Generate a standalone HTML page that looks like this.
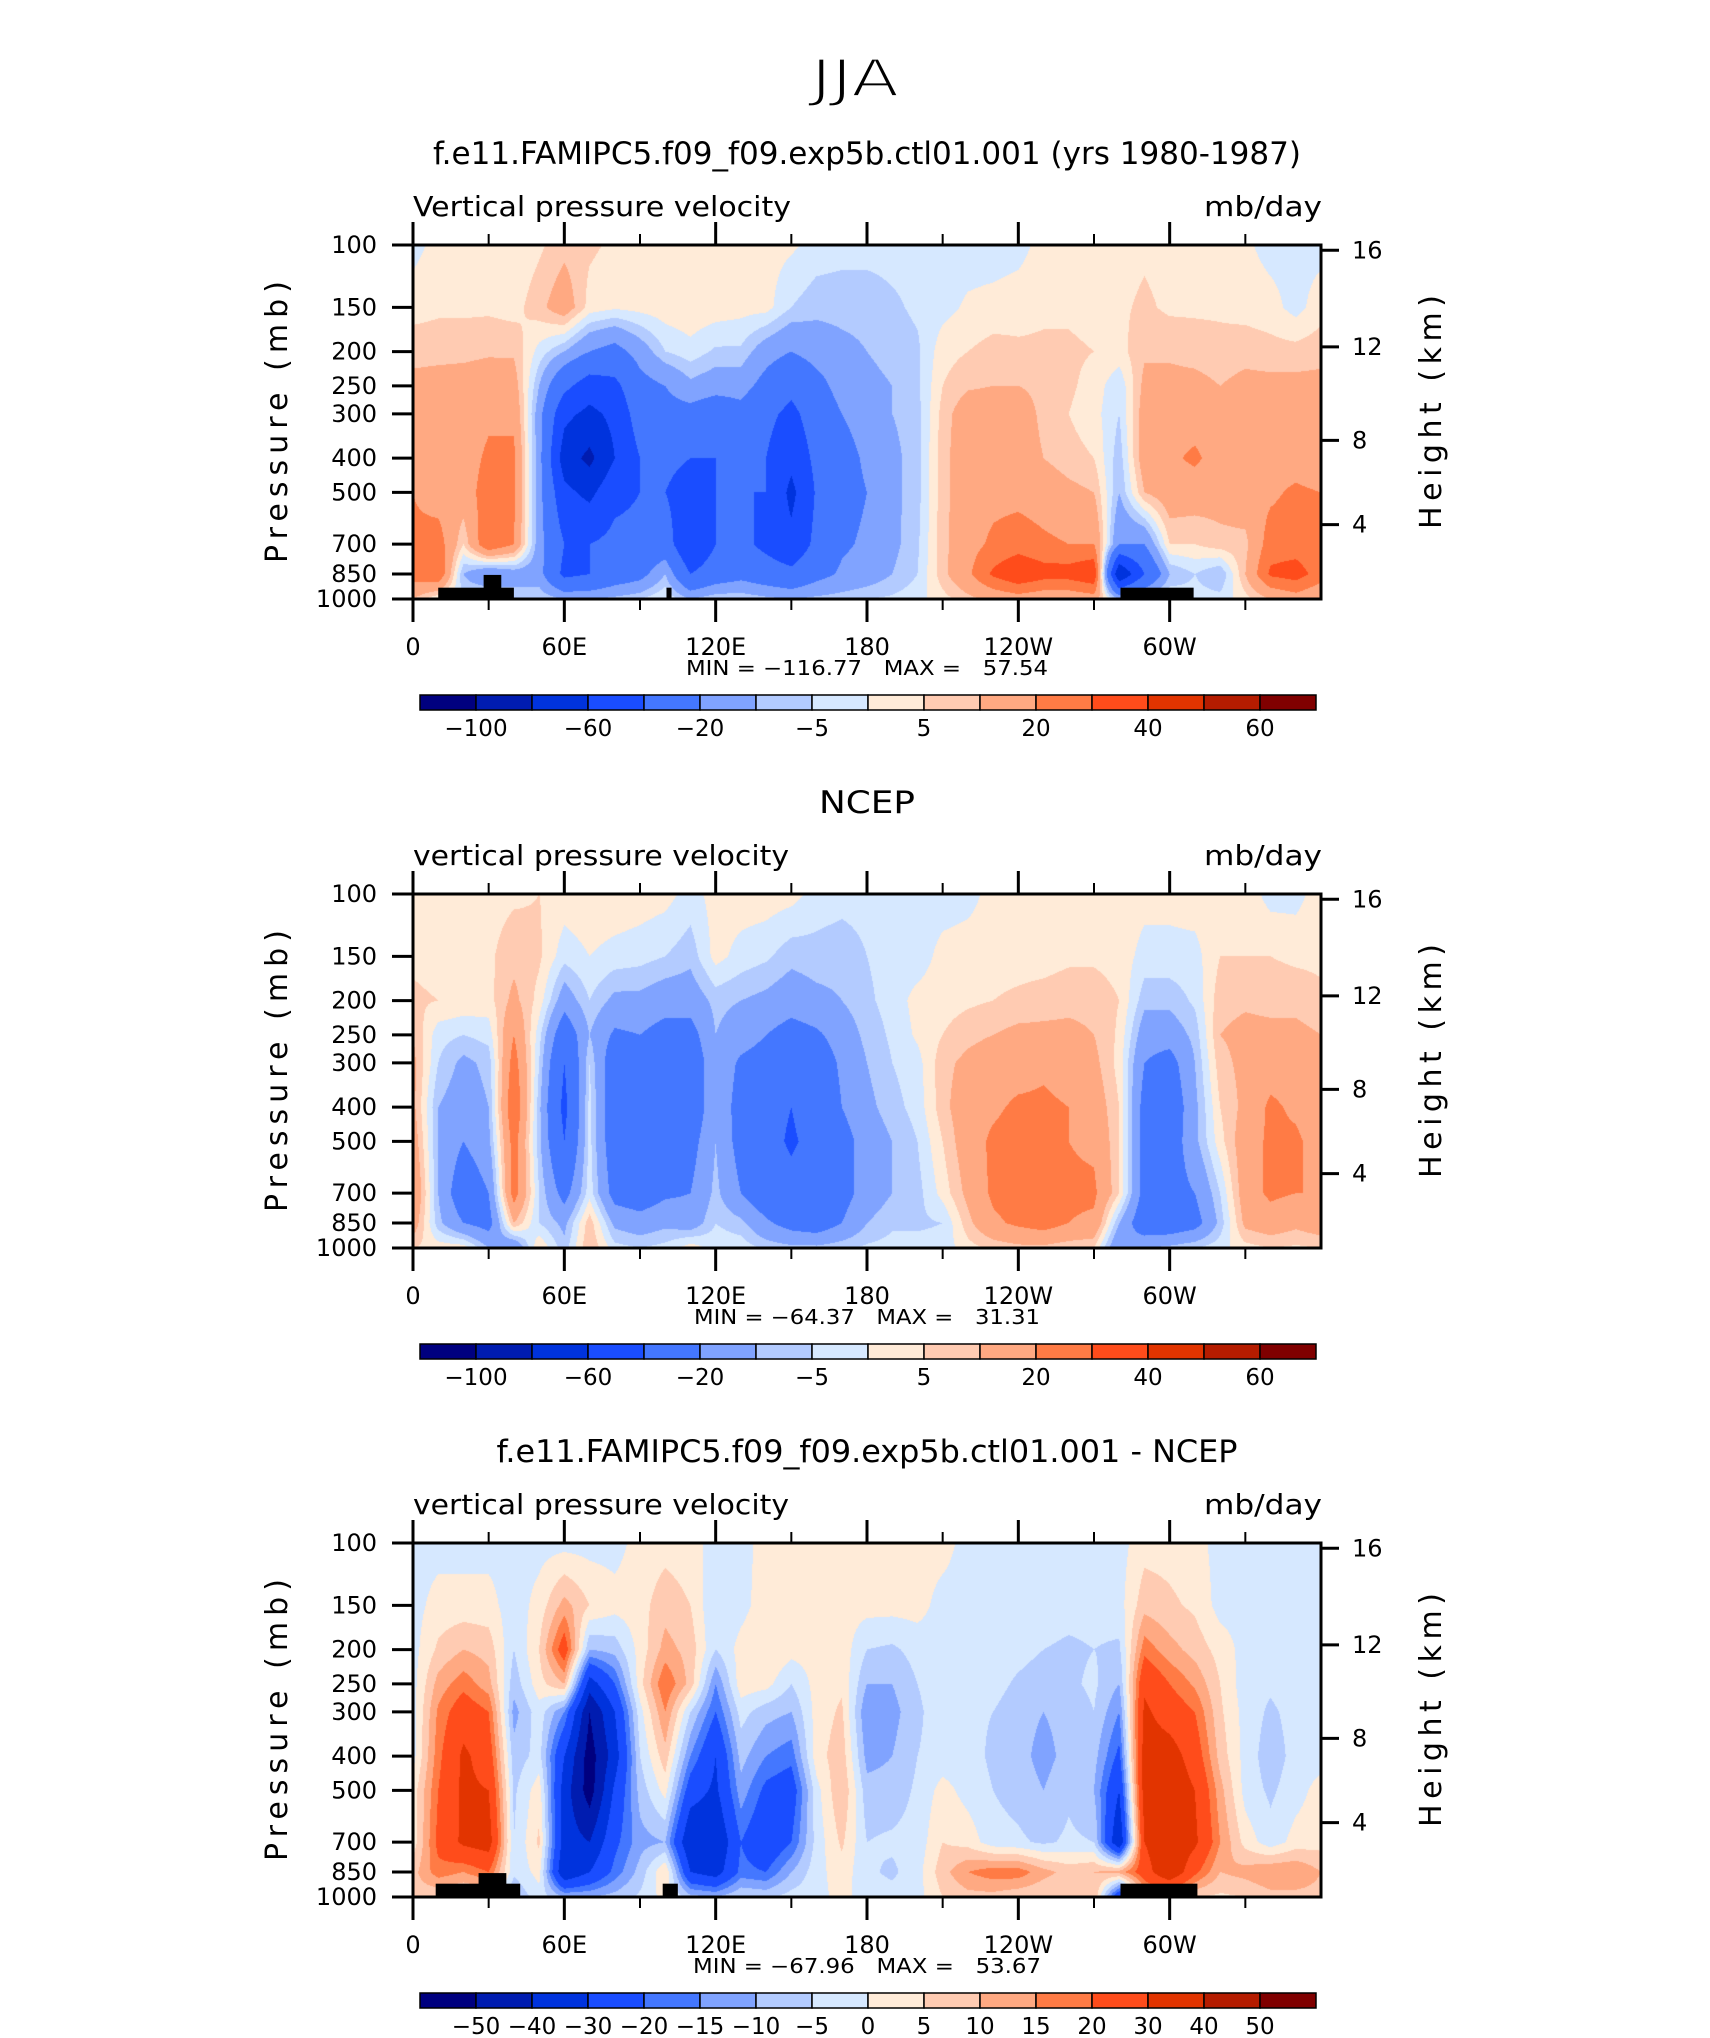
<!DOCTYPE html>
<html><head><meta charset="utf-8">
<style>
html,body{margin:0;padding:0;background:#fff;}
#wrap{position:relative;width:1710px;height:2038px;overflow:hidden;}
canvas{position:absolute;}
svg{position:absolute;left:0;top:0;}
text{font-family:"DejaVu Sans","Liberation Sans",sans-serif;fill:#000;}
</style></head>
<body>
<div id="wrap">
<canvas id="c0" width="908" height="354" style="left:413px;top:245px"></canvas>
<canvas id="c1" width="908" height="354" style="left:413px;top:894px"></canvas>
<canvas id="c2" width="908" height="354" style="left:413px;top:1543px"></canvas>
<svg id="svg" width="1710" height="2038" xmlns="http://www.w3.org/2000/svg">
<text x="855" y="96" font-size="52" text-anchor="middle" font-family="Liberation Sans" textLength="88" lengthAdjust="spacingAndGlyphs" stroke="#fff" stroke-width="2.2">JJA</text>
</svg>
</div>
<script>
const longitudes=[0,10,20,30,40,50,60,70,80,90,100,110,120,130,140,150,160,170,180,190,200,210,220,230,240,250,260,270,280,290,300,310,320,330,340,350,360];
const pressureLevels=[100,150,200,250,300,400,500,700,850,1000];
const pressureTicks=[100,150,200,250,300,400,500,700,850,1000];
const heightTicks=[16,12,8,4];
const heightTickPressures=[103.5,194,356.5,616.6];
const lonTicks=[0,60,120,180,240,300];
const lonTickLabels=["0","60E","120E","180","120W","60W"];
const lonMinorTicks=[30,90,150,210,270,330];
const colors=['#00007f','#001cb0','#0033dd','#1a4dff','#4477ff','#80a3ff','#b3cbff','#d6e8ff','#ffebd8','#ffcbb2','#ffa982','#ff7b45','#ff4c1b','#e23400','#b51c00','#800000'];
const levelsA=[-100,-80,-60,-40,-20,-10,-5,0,5,10,20,30,40,50,60];
const levelLabelsA=["-100","","-60","","-20","","-5","","5","","20","","40","","60"];
const levelsDiff=[-50,-40,-30,-20,-15,-10,-5,0,5,10,15,20,30,40,50];
const levelLabelsDiff=["-50","-40","-30","-20","-15","-10","-5","0","5","10","15","20","30","40","50"];

const ctlOmega=[
[-2,2,2,3,1,4,8,6,4,3,3,4,3,3,2,1,-2,-3,-3,-3,-3,-3,-3,-3,-2,2,3,2,3,4,3,2,2,1,-2,-2,-2],
[3,4,4,4,3,8,15,3,1,2,3,4,3,2,2,-5,-8,-8,-8,-6,-4,-2,1,2,3,4,4,3,4,6,4,4,4,3,2,-2,3],
[8,8,8,9,9,-2,-10,-20,-25,-15,-5,-2,-6,-6,-15,-20,-15,-12,-10,-8,-6,3,5,7,6,6,6,5,3,9,9,8,7,8,7,7,8],
[12,13,14,15,14,-10,-35,-50,-45,-25,-20,-12,-15,-15,-25,-35,-25,-15,-12,-10,-6,5,9,10,10,8,6,3,-4,12,12,12,10,12,12,12,12],
[12,13,14,18,18,-15,-55,-65,-55,-30,-25,-25,-30,-25,-35,-45,-30,-20,-15,-10,-7,7,15,15,15,8,5,2,-5,14,14,15,13,14,14,14,12],
[12,14,15,22,22,-15,-70,-85,-60,-40,-35,-40,-40,-35,-40,-55,-35,-25,-18,-12,-7,8,15,15,15,10,7,5,-8,15,18,22,15,15,15,15,12],
[20,15,15,25,22,-15,-55,-65,-45,-40,-40,-50,-40,-40,-40,-65,-38,-25,-20,-12,-7,8,15,17,17,15,12,10,-10,10,15,14,13,15,18,22,20],
[22,25,5,30,20,-15,-40,-40,-35,-35,-30,-60,-40,-35,-45,-55,-35,-22,-18,-12,-6,8,16,22,25,22,20,20,-20,-20,5,5,8,8,25,25,22],
[25,30,-10,-20,-15,-15,-45,-40,-30,-25,-10,-40,-30,-25,-30,-35,-25,-18,-15,-10,-5,8,18,32,40,35,35,40,-80,-40,-10,-5,-10,10,32,35,25],
[10,0,-5,0,-5,-5,-10,-10,-8,-5,0,-10,-5,-5,-8,-10,-8,-7,-5,-4,-2,3,8,12,15,12,12,15,-10,-5,0,-3,-3,3,10,15,10]];

const ncepOmega=[
[3,3,3,3,4,5,3,4,4,3,2,-2,2,3,3,2,-2,-3,-3,-3,-3,-3,-2,2,3,3,3,3,3,2,2,3,3,3,-2,-2,3],
[4,3,3,4,8,6,-3,0,-2,-3,-5,-8,2,-2,-4,-8,-7,-8,-5,-3,-3,2,3,3,3,3,4,4,3,-2,-2,-2,5,5,5,4,4],
[6,5,4,3,12,3,-15,-5,-12,-12,-15,-15,-8,-10,-12,-15,-12,-10,-6,-3,2,3,4,5,6,7,8,8,5,-8,-8,-4,8,9,8,8,6],
[10,-3,-5,-3,20,-3,-30,-10,-22,-20,-25,-25,-10,-15,-20,-25,-22,-15,-8,-4,1,5,8,10,12,12,12,10,4,-15,-15,-8,10,12,12,12,10],
[12,-5,-12,-8,25,-5,-40,-5,-30,-28,-30,-30,-12,-22,-25,-30,-28,-18,-10,-5,-2,8,12,15,15,18,15,12,3,-20,-25,-10,8,12,15,15,12],
[12,-10,-15,-10,30,-8,-45,-3,-30,-32,-30,-30,-12,-25,-35,-40,-32,-20,-12,-7,-3,8,15,18,22,22,20,15,5,-25,-30,-12,5,12,22,18,12],
[15,-10,-20,-12,25,-8,-40,-3,-30,-35,-30,-25,-10,-25,-35,-42,-35,-25,-15,-10,-5,5,15,22,25,25,20,18,5,-25,-28,-12,3,15,22,22,15],
[20,-10,-30,-20,25,-5,-25,-2,-25,-28,-22,-20,-8,-20,-30,-35,-30,-25,-15,-10,-7,2,12,22,25,25,22,22,5,-25,-25,-20,-5,15,22,20,20],
[15,-8,-20,-25,10,-5,-12,8,-12,-15,-12,-15,-5,-8,-18,-25,-28,-20,-10,-6,-6,-5,8,18,22,25,20,18,-10,-30,-30,-25,-8,12,15,12,15],
[5,3,3,-10,-20,5,-8,10,-3,-5,-3,3,-2,-2,-6,-8,-8,-6,-4,-3,-3,-3,3,6,8,8,6,5,-20,-10,-8,-5,-2,3,5,4,5]];

const diffOmega=[
[-2,-2,-2,-2,-2,-2,-2,-2,-2,2,3,2,-2,-2,2,2,2,2,2,2,2,2,-2,-2,-2,-2,-2,-2,-2,3,3,2,-2,-2,-2,-2,-2],
[-2,2,2,2,-3,2,12,5,2,3,8,5,-5,-2,3,3,2,2,2,2,2,-2,-2,-2,-2,-2,-3,-3,-2,8,6,4,-2,-2,-2,-2,-2],
[-2,6,10,8,-5,5,25,-10,-8,2,12,8,-5,2,5,2,2,3,-5,-6,-3,-2,-2,-2,-3,-5,-6,-5,-6,18,12,8,3,-2,-2,-2,-2],
[-2,12,18,12,-8,3,10,-35,-20,3,20,8,-15,3,2,-5,2,4,-10,-10,-5,-2,-4,-3,-6,-8,-6,-4,-10,28,20,14,5,-3,-4,-2,-2],
[-2,16,25,20,-12,-2,-15,-50,-30,-2,15,-5,-20,-3,-8,-10,2,6,-15,-12,-6,-2,-4,-5,-8,-10,-8,-5,-15,32,25,20,6,-2,-6,-3,-2],
[-2,18,32,25,-8,-3,-30,-55,-35,-5,8,-15,-30,-8,-15,-18,3,8,-12,-10,-5,-3,-3,-6,-8,-12,-8,-8,-22,35,35,25,8,-2,-8,-3,-2],
[2,20,32,30,-6,3,-35,-55,-28,-8,2,-25,-32,-12,-22,-25,-2,10,-8,-8,-4,2,-2,-5,-7,-10,-6,-10,-30,35,38,30,12,-2,-6,-2,2],
[2,22,32,35,-5,6,-35,-40,-22,-12,-10,-40,-40,-20,-28,-20,-3,6,-5,-4,-3,5,3,-3,-4,-6,-4,-5,-40,30,40,32,15,3,-3,2,3],
[8,18,15,20,-4,2,-40,-30,-18,-8,5,-30,-35,-18,-20,-10,-2,3,-4,-6,-2,8,15,18,18,12,8,10,12,25,40,22,10,12,15,15,10],
[8,5,3,2,-10,-2,-10,-10,-8,-4,2,-8,-10,-5,-6,-3,-2,2,-3,-3,-2,5,8,8,6,5,5,10,-30,10,10,5,4,5,8,8,8]];

const topoCtlStart=[10,28,100.5,280.5];
const topoCtlEnd=[40,35,102.5,309.5];
const topoCtlTop=[929,855,929,929];
const topoDiffStart=[9,26,99,280.5];
const topoDiffEnd=[42.5,37,105,311];
const topoDiffTop=[917,856,917,917];

const panels=[
 {top:245,title:"f.e11.FAMIPC5.f09_f09.exp5b.ctl01.001 (yrs 1980-1987)",titleLen:868,var:"Vertical pressure velocity",varLen:378,data:ctlOmega,levels:levelsA,labels:levelLabelsA,minmax:"MIN = \u2212116.77   MAX =   57.54",mmLen:362,topoS:topoCtlStart,topoE:topoCtlEnd,topoT:topoCtlTop,key:"ctl"},
 {top:894,title:"NCEP",titleLen:96,var:"vertical pressure velocity",varLen:376,data:ncepOmega,levels:levelsA,labels:levelLabelsA,minmax:"MIN = \u221264.37   MAX =   31.31",mmLen:346,topoS:[],topoE:[],topoT:[],key:"ncep"},
 {top:1543,title:"f.e11.FAMIPC5.f09_f09.exp5b.ctl01.001 - NCEP",titleLen:741,var:"vertical pressure velocity",varLen:376,data:diffOmega,levels:levelsDiff,labels:levelLabelsDiff,minmax:"MIN = \u221267.96   MAX =   53.67",mmLen:348,topoS:topoDiffStart,topoE:topoDiffEnd,topoT:topoDiffTop,key:"diff"}
];

const PL=413, PW=908, PH=354;
function xScale(lon){return PL+lon/360*PW;}
function yFrac(p){return Math.log(p/100)/Math.log(10);}
function yScale(top,p){return top+yFrac(p)*PH;}

function valueAt(data,lon,p){
  let fi=lon/10; let i0=Math.min(Math.floor(fi),longitudes.length-2); let t=fi-i0;
  let lp=Math.log(p); let k=0;
  while(k<pressureLevels.length-2 && p>pressureLevels[k+1]) k++;
  let s=(lp-Math.log(pressureLevels[k]))/(Math.log(pressureLevels[k+1])-Math.log(pressureLevels[k]));
  s=Math.max(0,Math.min(1,s));
  const a=data[k][i0],b=data[k][i0+1],c=data[k+1][i0],d=data[k+1][i0+1];
  return (a*(1-t)+b*t)*(1-s)+(c*(1-t)+d*t)*s;
}
function colorIndex(levels,v){let n=0;for(const l of levels){if(v>=l)n++;}return n;}
function hexRGB(h){return [parseInt(h.substr(1,2),16),parseInt(h.substr(3,2),16),parseInt(h.substr(5,2),16)];}
const rgb=colors.map(hexRGB);

const NS="http://www.w3.org/2000/svg";
const svg=document.getElementById('svg');
function mk(tag,attrs,parent){const e=document.createElementNS(NS,tag);for(const k in attrs)e.setAttribute(k,attrs[k]);(parent||svg).appendChild(e);return e;}
function txt(x,y,s,size,attrs){const e=mk('text',Object.assign({x:x,y:y,'font-size':size},attrs||{}));e.textContent=s;return e;}

panels.forEach((P,pi)=>{
  const cv=document.getElementById('c'+pi);const ctx=cv.getContext('2d');
  const img=ctx.createImageData(PW,PH);
  for(let y=0;y<PH;y++){
    const p=100*Math.pow(10,(y+0.5)/PH);
    for(let x=0;x<PW;x++){
      const lon=(x+0.5)/PW*360;
      const v=valueAt(P.data,lon,p);
      const c=rgb[colorIndex(P.levels,v)];
      const o=(y*PW+x)*4;img.data[o]=c[0];img.data[o+1]=c[1];img.data[o+2]=c[2];img.data[o+3]=255;
    }
  }
  ctx.putImageData(img,0,0);
  const T=P.top, B=T+PH;
  const g=mk('g',{});
  
  
  for(let i=0;i<P.topoS.length;i++){
    const r=mk('rect',{x:xScale(P.topoS[i]),y:yScale(T,P.topoT[i]),width:xScale(P.topoE[i])-xScale(P.topoS[i]),height:B-yScale(T,P.topoT[i]),fill:'#000'},g);
    
    
  }
  const tt=txt(867,T-81,P.title,31,{'text-anchor':'middle','font-family':'Liberation Sans',textLength:P.titleLen,lengthAdjust:'spacingAndGlyphs'});
  
  
  const vt=txt(PL,T-29,P.var,28,{textLength:P.varLen,lengthAdjust:'spacingAndGlyphs'});
  
  
  const ut=txt(1322,T-29,"mb/day",28,{'text-anchor':'end',textLength:118,lengthAdjust:'spacingAndGlyphs'});
  
  
  const fr=mk('rect',{x:PL,y:T,width:PW,height:PH,fill:'none',stroke:'#000','stroke-width':3},g);
  
  
  pressureTicks.forEach(p=>{
    const y=yScale(T,p);
    mk('line',{x1:392,x2:PL,y1:y,y2:y,stroke:'#000','stroke-width':3},g);
    const l=txt(377,y+8,String(p),24,{'text-anchor':'end'});
    
    
  });
  heightTicks.forEach((h,i)=>{
    const y=yScale(T,heightTickPressures[i]);
    mk('line',{x1:PL+PW,x2:PL+PW+18,y1:y,y2:y,stroke:'#000','stroke-width':3},g);
    const l=txt(1352,y+8,String(h),24,{});
    
    
  });
  lonTicks.forEach((lon,i)=>{
    const x=xScale(lon);
    mk('line',{x1:x,x2:x,y1:T-23,y2:T,stroke:'#000','stroke-width':3},g);
    mk('line',{x1:x,x2:x,y1:B,y2:B+23,stroke:'#000','stroke-width':3},g);
    const l=txt(x,B+56,lonTickLabels[i],24,{'text-anchor':'middle'});
    
    
  });
  lonMinorTicks.forEach(lon=>{
    const x=xScale(lon);
    mk('line',{x1:x,x2:x,y1:T-11,y2:T,stroke:'#000','stroke-width':2},g);
    mk('line',{x1:x,x2:x,y1:B,y2:B+11,stroke:'#000','stroke-width':2},g);
  });
  const yl=txt(0,0,"Pressure (mb)",30,{'text-anchor':'middle',transform:'translate(287,'+(T+PH/2)+') rotate(-90)',textLength:282,lengthAdjust:'spacing'});
  
  
  const hl=txt(0,0,"Height (km)",30,{'text-anchor':'middle',transform:'translate(1441,'+(T+PH/2-10)+') rotate(-90)',textLength:234,lengthAdjust:'spacing'});
  
  
  const mm=txt(867,T+430,P.minmax,20,{'text-anchor':'middle','font-family':'Liberation Sans',textLength:P.mmLen,lengthAdjust:'spacingAndGlyphs',style:'white-space:pre'});
  
  
  const cbY=T+450, cbX=420, cbW=896, cbH=15, bw=cbW/colors.length;
  colors.forEach((c,i)=>{
    const r=mk('rect',{x:cbX+i*bw,y:cbY,width:bw,height:cbH,fill:c,stroke:'#000','stroke-width':1.5},g);
    
    
  });
  P.labels.forEach((s,i)=>{
    if(!s)return;
    const l=txt(cbX+(i+1)*bw,cbY+41,s.replace('-','\u2212'),23,{'text-anchor':'middle'});
    
    
  });
});
</script>
</body></html>
